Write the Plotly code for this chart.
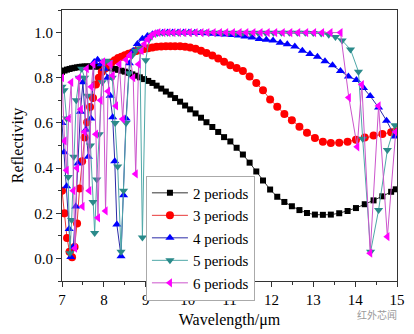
import plotly.graph_objects as go

# ---- data ----
x_grid = [7.00, 7.06, 7.12, 7.18, 7.24, 7.30, 7.36, 7.42, 7.48, 7.54, 7.60, 7.67, 7.74, 7.81, 7.88,
          7.95, 8.02, 8.10, 8.18, 8.26, 8.34, 8.42, 8.50, 8.59, 8.68, 8.77, 8.86, 8.96, 9.06, 9.16,
          9.26, 9.37, 9.48, 9.59, 9.70, 9.82, 9.94, 10.06, 10.19, 10.32, 10.45, 10.59, 10.73, 10.87,
          11.02, 11.17, 11.32, 11.48, 11.64, 11.80, 11.97, 12.14, 12.31, 12.49, 12.67, 12.85, 13.04,
          13.23, 13.42, 13.62, 13.82, 14.02, 14.23, 14.44, 14.65, 14.86, 14.97]

r2 = [0.826, 0.832, 0.836, 0.839, 0.842, 0.844, 0.846, 0.848, 0.849, 0.850, 0.850, 0.850, 0.850, 0.850,
      0.849, 0.848, 0.846, 0.844, 0.842, 0.839, 0.835, 0.831, 0.827, 0.822, 0.815, 0.809, 0.802, 0.794,
      0.786, 0.777, 0.765, 0.752, 0.739, 0.725, 0.710, 0.694, 0.677, 0.660, 0.642, 0.623, 0.603, 0.582,
      0.560, 0.537, 0.518, 0.490, 0.460, 0.424, 0.385, 0.345, 0.305, 0.273, 0.250, 0.231, 0.214, 0.201,
      0.194, 0.193, 0.194, 0.200, 0.210, 0.223, 0.240, 0.257, 0.275, 0.295, 0.306]

r3 = [0.30, 0.20, 0.09, 0.03, 0.005, 0.05, 0.155, 0.31, 0.43, 0.535, 0.603, 0.67, 0.71, 0.77, 0.80,
      0.825, 0.84, 0.857, 0.868, 0.878, 0.887, 0.893, 0.900, 0.906, 0.912, 0.918, 0.922, 0.927, 0.931,
      0.934, 0.937, 0.938, 0.939, 0.940, 0.940, 0.939, 0.937, 0.934, 0.928, 0.920, 0.910, 0.898, 0.885,
      0.871, 0.855, 0.843, 0.830, 0.806, 0.777, 0.745, 0.704, 0.672, 0.640, 0.612, 0.583, 0.557, 0.533,
      0.517, 0.511, 0.512, 0.517, 0.525, 0.535, 0.544, 0.551, 0.559, 0.563]

x4 = [7.00, 7.05, 7.11, 7.17, 7.21, 7.27, 7.33, 7.38, 7.44, 7.50, 7.57, 7.63, 7.69, 7.77, 7.85, 7.93,
      8.01, 8.09, 8.15, 8.21, 8.26, 8.31, 8.41, 8.47, 8.53, 8.61, 8.70, 8.80, 8.92, 9.04, 9.16, 9.28,
      9.40, 9.52, 9.64, 9.77, 9.90, 10.03, 10.17, 10.31, 10.45, 10.60, 10.75, 10.90, 11.05, 11.21, 11.37,
      11.54, 11.71, 11.88, 12.04, 12.21, 12.38, 12.56, 12.74, 12.92, 13.10, 13.28, 13.46, 13.65, 13.84,
      14.03, 14.20, 14.36, 14.56, 14.75, 14.95]
r4 = [0.60, 0.47, 0.32, 0.13, 0.006, 0.05, 0.23, 0.42, 0.65, 0.78, 0.57, 0.45, 0.62, 0.87, 0.88, 0.86,
      0.84, 0.80, 0.72, 0.625, 0.43, 0.15, 0.01, 0.28, 0.62, 0.864, 0.92, 0.95, 0.973, 0.985, 0.993, 0.997,
      0.999, 1.0, 1.0, 1.0, 1.0, 1.0, 0.999, 0.998, 0.997, 0.995, 0.993, 0.991, 0.989, 0.987, 0.983,
      0.978, 0.972, 0.968, 0.965, 0.955, 0.948, 0.938, 0.920, 0.905, 0.893, 0.873, 0.855, 0.830, 0.806,
      0.790, 0.755, 0.719, 0.668, 0.61, 0.54]

x5 = [7.00, 7.05, 7.11, 7.15, 7.19, 7.23, 7.28, 7.34, 7.41, 7.47, 7.54, 7.61, 7.68, 7.74, 7.78, 7.83,
      7.89, 7.96, 8.04, 8.12, 8.20, 8.27, 8.33, 8.41, 8.47, 8.53, 8.60, 8.68, 8.76, 8.86, 8.92, 9.00,
      9.08, 9.16, 9.28, 9.40, 9.52, 9.65, 9.78, 9.92, 10.06, 10.20, 10.35, 10.50, 10.66, 10.82, 10.98,
      11.15, 11.32, 11.50, 11.68, 11.86, 12.05, 12.24, 12.43, 12.62, 12.81, 13.00, 13.19, 13.37, 13.53,
      13.69, 13.89, 14.08, 14.18, 14.37, 14.56, 14.77, 14.95]
r5 = [0.76, 0.745, 0.62, 0.36, 0.023, 0.17, 0.45, 0.70, 0.80, 0.84, 0.80, 0.72, 0.50, 0.25, 0.113, 0.35,
      0.55, 0.78, 0.875, 0.87, 0.80, 0.60, 0.407, 0.03, 0.30, 0.60, 0.82, 0.90, 0.92, 0.93, 0.093, 0.878,
      0.97, 0.99, 0.998, 0.999, 0.999, 0.999, 0.999, 0.999, 0.999, 0.999, 0.999, 0.999, 0.999, 0.999, 0.999,
      0.999, 0.999, 0.999, 0.999, 0.999, 0.999, 0.999, 0.999, 0.999, 0.999, 0.998, 0.996, 0.99, 0.98,
      0.965, 0.925, 0.827, 0.53, 0.03, 0.214, 0.48, 0.59]

x6 = [7.00, 7.06, 7.11, 7.16, 7.22, 7.27, 7.31, 7.36, 7.40, 7.45, 7.49, 7.54, 7.59, 7.65, 7.70, 7.75,
      7.81, 7.86, 7.92, 7.98, 8.04, 8.10, 8.16, 8.21, 8.29, 8.37, 8.45, 8.53, 8.62, 8.70, 8.76, 8.83,
      8.90, 8.97, 9.05, 9.12, 9.20, 9.30, 9.42, 9.54, 9.66, 9.79, 9.92, 10.05, 10.19, 10.33, 10.47,
      10.62, 10.77, 10.92, 11.08, 11.24, 11.40, 11.57, 11.74, 11.91, 12.09, 12.27, 12.45, 12.64, 12.83,
      13.02, 13.21, 13.41, 13.65, 13.85, 14.05, 14.16, 14.36, 14.56, 14.77, 14.97]
r6 = [0.80, 0.52, 0.39, 0.62, 0.78, 0.30, 0.045, 0.40, 0.80, 0.66, 0.23, 0.56, 0.84, 0.30, 0.76, 0.86,
      0.55, 0.18, 0.70, 0.87, 0.21, 0.74, 0.86, 0.81, 0.675, 0.86, 0.617, 0.88, 0.90, 0.80, 0.374, 0.86,
      0.92, 0.95, 0.97, 0.985, 0.995, 1.0, 1.0, 1.0, 1.0, 1.0, 1.0, 1.0, 1.0, 1.0, 1.0,
      1.0, 1.0, 1.0, 1.0, 1.0, 1.0, 1.0, 1.0, 1.0, 1.0, 1.0, 1.0, 1.0, 1.0,
      1.0, 1.0, 1.0, 1.0, 0.712, 0.494, 0.77, 0.023, 0.675, 0.096, 0.56]

series_names = ["2 periods", "3 periods", "4 periods", "5 periods", "6 periods"]
x_ticks = [7, 8, 9, 10, 11, 12, 13, 14, 15]
y_ticks = [0.0, 0.2, 0.4, 0.6, 0.8, 1.0]

# ---- styles ----
styles = [
    dict(x=x_grid, y=r2, symbol="square", mc="#000000", lc="#333333", size=6),
    dict(x=x_grid, y=r3, symbol="circle", mc="#ff0000", lc="#e83a3a", size=8),
    dict(x=x4, y=r4, symbol="triangle-up", mc="#0000ff", lc="#2b2ba8", size=8),
    dict(x=x5, y=r5, symbol="triangle-down", mc="#2a8a8a", lc="#4fa8a8", size=8),
    dict(x=x6, y=r6, symbol="triangle-left", mc="#ff00ff", lc="#cc55cc", size=8),
]

FONT = "Liberation Serif"
fig = go.Figure()
for name, s in zip(series_names, styles):
    fig.add_trace(go.Scatter(
        x=s["x"], y=s["y"], name=name, mode="lines+markers",
        line=dict(color=s["lc"], width=1),
        marker=dict(symbol=s["symbol"], color=s["mc"], size=s["size"], line=dict(width=0)),
    ))

fig.update_layout(
    width=414, height=334,
    margin=dict(l=62, r=14, t=9, b=50),
    paper_bgcolor="white", plot_bgcolor="white",
    font=dict(family=FONT, size=15, color="black"),
    showlegend=True,
    legend=dict(x=0.2506, y=0.389, xanchor="left", yanchor="top",
                bgcolor="white", bordercolor="#aaaaaa", borderwidth=1,
                font=dict(family=FONT, size=15), itemwidth=36,
                tracegroupgap=0),
    annotations=[dict(text="红外芯闻", xref="paper", yref="paper", x=0.94, y=-0.125,
                      xanchor="center", yanchor="middle",
                      showarrow=False, font=dict(family="Noto Sans CJK SC", size=10, color="#9a9a9a"))],
)
fig.update_xaxes(
    range=[7, 15], tickvals=x_ticks, ticks="outside", ticklen=5, tickcolor="#333",
    showline=True, linecolor="#333", linewidth=1, mirror=True, showgrid=False, zeroline=False,
    minor=dict(dtick=0.5, ticks="outside", ticklen=3, tickcolor="#333", showgrid=False),
    title=dict(text="Wavelength/μm", font=dict(family=FONT, size=16), standoff=6),
    tickfont=dict(family=FONT, size=15),
)
fig.update_yaxes(
    range=[-0.1, 1.1], tickvals=y_ticks, tickformat=".1f", ticks="outside", ticklen=5, tickcolor="#333",
    showline=True, linecolor="#333", linewidth=1, mirror=True, showgrid=False, zeroline=False,
    minor=dict(dtick=0.1, tick0=0, ticks="outside", ticklen=3, tickcolor="#333", showgrid=False),
    title=dict(text="Reflectivity", font=dict(family=FONT, size=16), standoff=6),
    tickfont=dict(family=FONT, size=15),
)
fig.write_html("out.html")
